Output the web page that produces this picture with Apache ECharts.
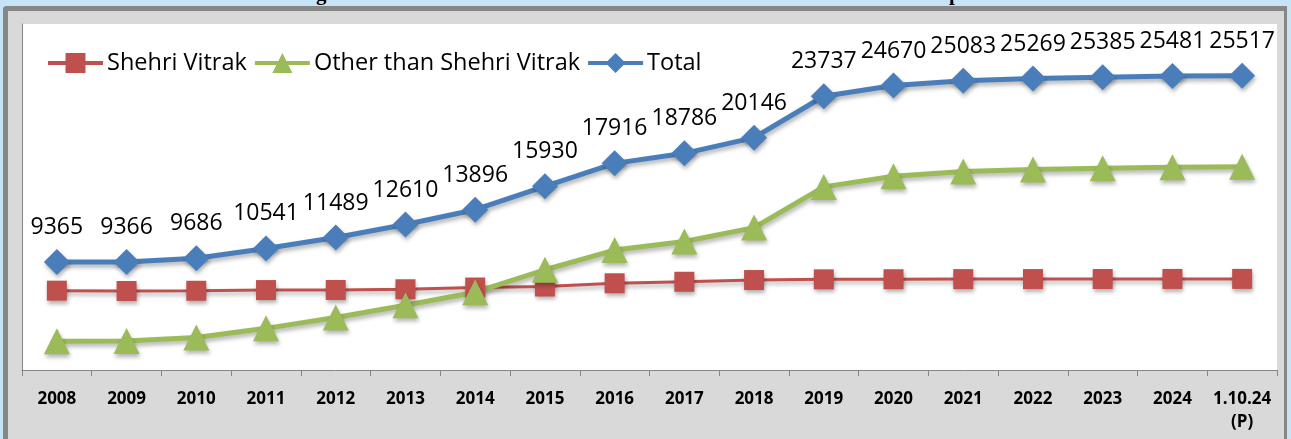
<!DOCTYPE html>
<html>
<head>
<meta charset="utf-8">
<title>Shehri Vitrak</title>
<script src="https://cdn.jsdelivr.net/npm/echarts@6/dist/echarts.min.js"></script>
<style>
	html, body { margin: 0; padding: 0; background: #c6e4f6; overflow: hidden; }
	#frame {
		position: absolute; left: 3px; top: 6px; width: 1284px; height: 440px;
		box-sizing: border-box; background: #d9d9d9;
		border-top: 5px solid #878787; border-left: 5px solid #878787; border-right: 3px solid #878787;
		border-top-left-radius: 4px;
	}
	#chart { position: absolute; left: 0; top: 0; width: 1291px; height: 439px; }
</style>
</head>
<body>
<div id="frame"></div>
<div id="chart"></div>
<script>
// 年份
var years = ['2008', '2009', '2010', '2011', '2012', '2013', '2014', '2015', '2016',
	'2017', '2018', '2019', '2020', '2021', '2022', '2023', '2024', '1.10.24\n(P)'];

// 数据
var shehriVitrak = [6880, 6850, 6870, 6930, 6940, 7000, 7150, 7240, 7520,
	7650, 7800, 7860, 7870, 7880, 7885, 7890, 7895, 7900];
var otherThanShehri = [2485, 2516, 2816, 3611, 4549, 5610, 6746, 8690, 10396,
	11136, 12346, 15877, 16800, 17203, 17384, 17495, 17586, 17617];
var total = [9365, 9366, 9686, 10541, 11489, 12610, 13896, 15930, 17916,
	18786, 20146, 23737, 24670, 25083, 25269, 25385, 25481, 25517];

var FONT = '"Open Sans", "Noto Sans", sans-serif';
var shadow = { shadowColor: 'rgba(0,0,0,0.3)', shadowBlur: 4, shadowOffsetY: 3, shadowOffsetX: 1 };

function lineSeries(name, data, color, symbol, size, width) {
	return {
		name: name,
		type: 'line',
		data: data,
		symbol: symbol,
		symbolSize: size,
		showAllSymbol: true,
		itemStyle: Object.assign({ color: color }, shadow),
		lineStyle: Object.assign({ color: color, width: width }, shadow),
		emphasis: { disabled: true },
		animation: false
	};
}

var chart = echarts.init(document.getElementById('chart'));

var totalSeries = lineSeries('Total', total, '#4a7ebb', 'diamond', 26, 5);
totalSeries.label = {
	show: true,
	position: 'top',
	distance: 10,
	fontFamily: FONT,
	fontSize: 23,
	color: '#000'
};

chart.setOption({
	textStyle: { fontFamily: FONT },
	grid: {
		left: 22, right: 14, top: 24, bottom: 69,
		show: true, backgroundColor: '#fff', borderWidth: 0
	},
	legend: {
		left: 46,
		top: 51,
		padding: 0,
		itemWidth: 55,
		itemHeight: 25,
		itemGap: 6,
		lineStyle: { width: 4 },
		textStyle: { fontFamily: FONT, fontSize: 23.5, color: '#000', padding: [0, 0, 0, -1] },
		data: ['Shehri Vitrak', 'Other than Shehri Vitrak', 'Total']
	},
	xAxis: {
		type: 'category',
		data: years,
		boundaryGap: true,
		axisLine: { lineStyle: { color: '#868686', width: 1 } },
		axisTick: { show: true, interval: 0, length: 6, lineStyle: { color: '#868686' } },
		axisLabel: {
			interval: 0,
			margin: 18,
			fontFamily: FONT,
			fontWeight: 'bold',
			fontSize: 17,
			lineHeight: 23,
			color: '#000'
		}
	},
	yAxis: {
		type: 'value',
		min: 0,
		max: 30000,
		interval: 5000,
		axisLine: { show: true, lineStyle: { color: '#868686', width: 1 } },
		axisTick: { show: false },
		axisLabel: { show: false },
		splitLine: { show: false }
	},
	graphic: [
		{ type: 'text', left: 316, top: -16, style: { text: 'g', font: 'bold 21px "Liberation Serif"', fill: '#000' } },
		{ type: 'text', left: 949, top: -16, style: { text: 'p', font: 'bold 21px "Liberation Serif"', fill: '#000' } }
	],
	series: [
		lineSeries('Shehri Vitrak', shehriVitrak, '#c0504d', 'rect', 20, 3),
		lineSeries('Other than Shehri Vitrak', otherThanShehri, '#9bbb59', 'triangle', 26, 5),
		totalSeries
	]
});
</script>
</body>
</html>
